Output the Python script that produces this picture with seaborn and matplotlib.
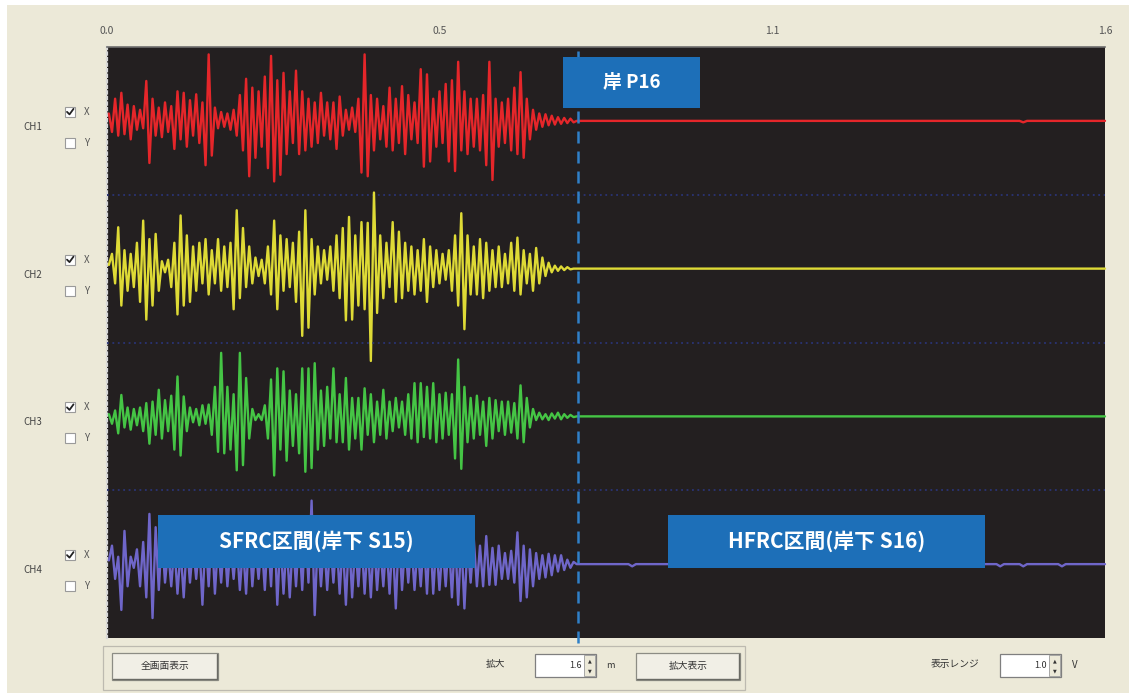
import numpy as np
import pandas as pd
import matplotlib
matplotlib.use("Agg")
import matplotlib.pyplot as plt
import seaborn as sns
from matplotlib.patches import Rectangle
from matplotlib.lines import Line2D

# ---- data (amplitude in V, display range +-1.0 V) ----
channels = ["CH1", "CH2", "CH3", "CH4"]
x_ticks = ["0.0", "0.5", "1.1", "1.6"]
x_max = 1.6            # m
boundary_m = 0.755     # 岸 P16
t_start = 0.003
t_step = 0.005

ch1 = [0.10, -0.15, 0.30, -0.20, 0.38, -0.18, 0.22, -0.25, 0.20, -0.12,
       0.15, -0.10, 0.54, -0.57, 0.30, -0.20, 0.18, -0.22, 0.25, -0.15,
       0.20, -0.38, 0.40, -0.25, 0.38, -0.35, 0.28, -0.20, 0.36, -0.30,
       0.25, -0.60, 0.90, -0.47, 0.18, -0.10, 0.12, -0.08, 0.10, -0.12,
       0.15, -0.20, 0.35, -0.40, 0.57, -0.75, 0.45, -0.50, 0.40, -0.35,
       0.60, -0.64, 0.88, -0.82, 0.55, -0.73, 0.65, -0.45, 0.40, -0.30,
       0.68, -0.45, 0.40, -0.40, 0.30, -0.35, 0.25, -0.30, 0.38, -0.20,
       0.25, -0.25, 0.25, -0.38, 0.33, -0.20, 0.15, -0.12, 0.18, -0.15,
       0.30, -0.70, 0.90, -0.75, 0.35, -0.40, 0.30, -0.25, 0.20, -0.35,
       0.45, -0.40, 0.30, -0.30, 0.47, -0.45, 0.35, -0.25, 0.25, -0.30,
       0.70, -0.62, 0.63, -0.55, 0.30, -0.35, 0.40, -0.30, 0.50, -0.55,
       0.55, -0.68, 0.80, -0.40, 0.40, -0.45, 0.30, -0.35, 0.30, -0.40,
       0.35, -0.60, 0.80, -0.80, 0.30, -0.35, 0.25, -0.30, 0.30, -0.40,
       0.45, -0.45, 0.66, -0.50, 0.30, -0.25, 0.15, -0.12,
       0.10, -0.08, 0.09, -0.06, 0.07, -0.05, 0.05, -0.04, 0.04, -0.03, 0.03, -0.02, 0.0]

ch2 = [0.05, 0.20, -0.20, 0.56, -0.50, 0.25, -0.30, 0.20, -0.25, 0.35,
       -0.45, 0.65, -0.69, 0.40, -0.50, 0.47, -0.30, 0.10, -0.05, 0.12,
       -0.25, 0.35, -0.62, 0.72, -0.50, 0.45, -0.45, 0.30, -0.30, 0.35,
       -0.20, 0.40, -0.35, 0.25, -0.20, 0.40, -0.30, 0.30, -0.25, 0.35,
       -0.55, 0.79, -0.40, 0.55, -0.25, 0.30, -0.20, 0.15, -0.10, 0.12,
       -0.20, 0.30, -0.35, 0.65, -0.55, 0.45, -0.30, 0.40, -0.25, 0.35,
       -0.45, 0.50, -0.91, 0.79, -0.80, 0.40, -0.35, 0.30, -0.20, 0.25,
       -0.15, 0.30, -0.30, 0.45, -0.40, 0.55, -0.70, 0.70, -0.69, 0.45,
       -0.50, 0.63, -0.55, 0.62, -1.25, 1.03, -0.60, 0.45, -0.40, 0.35,
       -0.25, 0.63, -0.45, 0.50, -0.40, 0.35, -0.30, 0.30, -0.35, 0.25,
       -0.30, 0.40, -0.45, 0.30, -0.25, 0.25, -0.20, 0.20, -0.15, 0.25,
       -0.30, 0.45, -0.50, 0.75, -0.82, 0.45, -0.35, 0.30, -0.35, 0.40,
       -0.40, 0.35, -0.30, 0.25, -0.25, 0.30, -0.25, 0.20, -0.20, 0.35,
       -0.30, 0.42, -0.35, 0.25, -0.20, 0.20, -0.30, 0.28,
       -0.20, 0.15, -0.10, 0.08, -0.05, 0.04, -0.03, 0.03, -0.02, 0.02, -0.01, 0.0, 0.0]

ch3 = [0.03, -0.10, 0.08, -0.23, 0.29, -0.15, 0.12, -0.18, 0.10, -0.12,
       0.12, -0.20, 0.18, -0.37, 0.20, -0.25, 0.36, -0.30, 0.22, -0.20,
       0.28, -0.45, 0.54, -0.53, 0.27, -0.20, 0.12, -0.08, 0.10, -0.12,
       0.15, -0.10, 0.16, -0.25, 0.40, -0.48, 0.86, -0.50, 0.40, -0.45,
       0.30, -0.73, 0.86, -0.66, 0.52, -0.30, 0.10, -0.05, 0.03, -0.05,
       0.15, -0.30, 0.50, -0.80, 0.65, -0.45, 0.61, -0.60, 0.35, -0.40,
       0.30, -0.50, 0.65, -0.75, 0.65, -0.70, 0.72, -0.45, 0.35, -0.40,
       0.40, -0.30, 0.65, -0.35, 0.30, -0.35, 0.52, -0.45, 0.25, -0.30,
       0.25, -0.45, 0.38, -0.25, 0.30, -0.35, 0.20, -0.25, 0.36, -0.30,
       0.20, -0.20, 0.25, -0.15, 0.20, -0.25, 0.30, -0.30, 0.45, -0.35,
       0.45, -0.28, 0.40, -0.30, 0.45, -0.35, 0.30, -0.30, 0.32, -0.25,
       0.30, -0.57, 0.77, -0.71, 0.40, -0.35, 0.25, -0.30, 0.28, -0.25,
       0.20, -0.40, 0.25, -0.30, 0.22, -0.20, 0.20, -0.25, 0.20, -0.22,
       0.18, -0.30, 0.42, -0.35, 0.25, -0.15, 0.10, -0.05,
       0.05, -0.04, 0.03, -0.05, 0.04, -0.03, 0.05, -0.04, 0.03, -0.02, 0.02, -0.01, 0.0]

ch4 = [0.05, 0.25, -0.20, 0.10, -0.62, 0.45, -0.30, 0.10, -0.05, 0.20,
       -0.30, 0.30, -0.45, 0.68, -0.73, 0.50, -0.35, 0.40, -0.25, 0.20,
       -0.30, 0.25, -0.40, 0.20, -0.45, 0.30, -0.25, 0.25, -0.20, 0.30,
       -0.55, 0.40, -0.30, 0.45, -0.40, 0.30, -0.25, 0.35, -0.30, 0.25,
       -0.20, 0.30, -0.35, 0.25, -0.40, 0.45, -0.30, 0.25, -0.20, 0.30,
       -0.35, 0.40, -0.30, 0.65, -0.55, 0.35, -0.40, 0.30, -0.45, 0.35,
       -0.30, 0.40, -0.35, 0.50, -0.25, 0.86, -0.69, 0.40, -0.30, 0.30,
       -0.35, 0.30, -0.25, 0.35, -0.40, 0.30, -0.55, 0.40, -0.45, 0.30,
       -0.30, 0.35, -0.40, 0.30, -0.45, 0.35, -0.35, 0.25, -0.30, 0.30,
       -0.40, 0.35, -0.60, 0.45, -0.35, 0.30, -0.25, 0.30, -0.35, 0.25,
       -0.30, 0.35, -0.40, 0.45, -0.40, 0.30, -0.35, 0.25, -0.30, 0.35,
       -0.45, 0.40, -0.55, 0.35, -0.60, 0.30, -0.25, 0.35, -0.30, 0.25,
       -0.30, 0.38, -0.28, 0.22, -0.28, 0.25, -0.20, 0.15, -0.20, 0.18,
       -0.25, 0.43, -0.50, 0.25, -0.45, 0.20, -0.30, 0.15,
       -0.20, 0.12, -0.18, 0.14, -0.15, 0.12, -0.10, 0.12, -0.08, 0.06, -0.05, 0.03, 0.0]

# flat part after the boundary (small blips)
flat_t = [0.760, 0.836, 0.842, 0.848, 1.426, 1.432, 1.438, 1.463, 1.469, 1.475, 1.525, 1.531, 1.537, 1.600]
ch1_flat = [0, 0, 0, 0, 0, 0, 0, 0, -0.02, 0, 0, 0, 0, 0]
ch2_flat = [0, 0, 0, 0, 0, 0, 0, 0, 0, 0, 0, 0, 0, 0]
ch3_flat = [0, 0, 0, 0, 0, 0, 0, 0, 0, 0, 0, 0, 0, 0]
ch4_flat = [0, 0, -0.03, 0, 0, -0.03, 0, 0, -0.03, 0, 0, -0.03, 0, 0]

line_colors = ["#E5262A", "#DEDA36", "#45C545", "#6F66C9"]

# ---- build long table ----
frames = []
for name, vals, flat in zip(channels, [ch1, ch2, ch3, ch4], [ch1_flat, ch2_flat, ch3_flat, ch4_flat]):
    t = t_start + np.arange(len(vals)) * t_step
    frames.append(pd.DataFrame({"t": np.concatenate([t, flat_t]),
                                "v": np.concatenate([vals, flat]),
                                "channel": name}))
df = pd.concat(frames, ignore_index=True)

sns.set_theme(style="white")
plt.rcParams["font.family"] = ["Noto Sans CJK JP", "DejaVu Sans"]

W, H = 1129, 693
fig = plt.figure(figsize=(W / 100, H / 100), dpi=100)
fig.patch.set_facecolor("white")


def px_box(x0, y0, x1, y1):
    return [x0 / W, 1 - y1 / H, (x1 - x0) / W, (y1 - y0) / H]


def fx(x):
    return x / W


def fy(y):
    return 1 - y / H


# window background
fig.add_artist(Rectangle((fx(7), 0), 1 - fx(7), fy(5), transform=fig.transFigure,
                         facecolor="#ECE9D8", edgecolor="none", zorder=-10))

# plot area
PX0, PY0, PX1, PY1 = 107, 47, 1105, 638
band = (PY1 - PY0) / 4

ax_bg = fig.add_axes(px_box(PX0, PY0, PX1, PY1))
ax_bg.set_facecolor("#231F20")
ax_bg.set_xlim(0, x_max)
ax_bg.set_ylim(0, 1)
ax_bg.xaxis.tick_top()
ax_bg.set_xticks(np.linspace(0, x_max, len(x_ticks)), x_ticks)
ax_bg.tick_params(axis="x", length=0, pad=8, labelsize=7.5, labelcolor="#555555")
ax_bg.set_yticks([])
for side in ["right", "bottom"]:
    ax_bg.spines[side].set_visible(False)
ax_bg.spines["top"].set_color("#6e6e6e")
ax_bg.spines["top"].set_linewidth(1.2)
ax_bg.spines["left"].set_color("#d8d8d8")
ax_bg.spines["left"].set_linestyle((0, (1, 1.5)))
ax_bg.spines["left"].set_linewidth(1.6)

for i, name in enumerate(channels):
    top = PY0 + i * band
    ax = fig.add_axes(px_box(PX0, top, PX1, top + band))
    ax.set_facecolor("none")
    sns.lineplot(data=df[df["channel"] == name], x="t", y="v", ax=ax,
                 color=line_colors[i], linewidth=1.7, estimator=None, sort=False)
    ax.lines[-1].set_clip_on(False)
    ax.set_xlim(0, x_max)
    ax.set_ylim(-1, 1)
    if i < 3:
        ax.axhline(-1, color="#2a3475", linestyle=(0, (1, 2)), linewidth=1.3, clip_on=False)
    ax.set_axis_off()

    # left side labels and checkboxes
    c = top + band / 2
    fig.text(fx(33), fy(c + 6), name, fontsize=7, color="#444444", ha="center", va="center")
    for dy, letter, checked in [(-9, "X", True), (22, "Y", False)]:
        fig.add_artist(Rectangle((fx(65), fy(c + dy + 5)), 10 / W, 10 / H, transform=fig.transFigure,
                                 facecolor="white", edgecolor="#9a9a9a", linewidth=0.8))
        if checked:
            fig.add_artist(Line2D([fx(67), fx(69.5), fx(73.5)], [fy(c + dy), fy(c + dy + 2.5), fy(c + dy - 3)],
                                  transform=fig.transFigure, color="#222222", linewidth=1.3))
        fig.text(fx(84), fy(c + dy), letter, fontsize=7, color="#555555", ha="left", va="center")

# overlay for boundary and labels
ax_ov = fig.add_axes(px_box(PX0, PY0, PX1, PY1))
ax_ov.set_facecolor("none")
ax_ov.set_xlim(0, x_max)
ax_ov.set_ylim(0, 1)
ax_ov.set_axis_off()
ax_ov.axvline(boundary_m, ymin=-0.009, ymax=1.0, color="#2F80C8", linewidth=1.8,
              linestyle=(0, (4.8, 3.2)), clip_on=False)

box_blue = "#1D6FB8"
labels = [("岸 P16", 0.731, 0.897, 0.951, 0.983, 13.5),
          ("SFRC区間(岸下 S15)", 0.082, 0.118, 0.590, 0.208, 15),
          ("HFRC区間(岸下 S16)", 0.899, 0.118, 1.408, 0.208, 15)]
for txt, x0, y0, x1, y1, fs in labels:
    ax_ov.add_patch(Rectangle((x0, y0), x1 - x0, y1 - y0, facecolor=box_blue, edgecolor="none", zorder=5))
    ax_ov.text((x0 + x1) / 2, (y0 + y1) / 2, txt, color="white", fontsize=fs, fontweight="bold",
               ha="center", va="center", zorder=6)

# ---- bottom controls ----
def button(x0, y0, x1, y1, text):
    fig.add_artist(Rectangle((fx(x0), fy(y1)), (x1 - x0) / W, (y1 - y0) / H, transform=fig.transFigure,
                             facecolor="#F1EFE6", edgecolor="#8c8c84", linewidth=0.9))
    fig.add_artist(Line2D([fx(x0 + 1), fx(x1 - 1), fx(x1 - 1)], [fy(y1 - 1), fy(y1 - 1), fy(y0 + 1)],
                          transform=fig.transFigure, color="#6a6a64", linewidth=1.0))
    fig.text(fx((x0 + x1) / 2), fy((y0 + y1) / 2), text, fontsize=7, color="#333333", ha="center", va="center")


def spin_box(x0, y0, x1, y1, text):
    fig.add_artist(Rectangle((fx(x0), fy(y1)), (x1 - x0) / W, (y1 - y0) / H, transform=fig.transFigure,
                             facecolor="white", edgecolor="#7f7f7f", linewidth=0.9))
    fig.add_artist(Rectangle((fx(x1 - 12), fy(y1 - 1)), 11 / W, (y1 - y0 - 2) / H, transform=fig.transFigure,
                             facecolor="#ECE9D8", edgecolor="#9a9a9a", linewidth=0.6))
    fig.text(fx(x1 - 6.5), fy(y0 + 7), "▲", fontsize=3.5, color="#333333", ha="center", va="center",
             family="DejaVu Sans")
    fig.text(fx(x1 - 6.5), fy(y1 - 6), "▼", fontsize=3.5, color="#333333", ha="center", va="center",
             family="DejaVu Sans")
    fig.text(fx(x1 - 14), fy((y0 + y1) / 2), text, fontsize=6.5, color="#333333", ha="right", va="center")


# group frame
fig.add_artist(Rectangle((fx(103), fy(690)), (745 - 103) / W, (690 - 646) / H, transform=fig.transFigure,
                         facecolor="none", edgecolor="#bdbab0", linewidth=0.9))
button(112, 653, 218, 680, "全画面表示")
fig.text(fx(495), fy(664), "拡大", fontsize=7, color="#333333", ha="center", va="center")
spin_box(535, 654, 596, 677, "1.6")
fig.text(fx(610), fy(666), "m", fontsize=6.5, color="#333333", ha="center", va="center")
button(636, 653, 740, 680, "拡大表示")
fig.text(fx(955), fy(664), "表示レンジ", fontsize=7, color="#333333", ha="center", va="center")
spin_box(1000, 654, 1061, 677, "1.0")
fig.text(fx(1075), fy(665), "V", fontsize=7, color="#333333", ha="center", va="center")

fig.savefig("out.png", dpi=100, facecolor=fig.get_facecolor())
